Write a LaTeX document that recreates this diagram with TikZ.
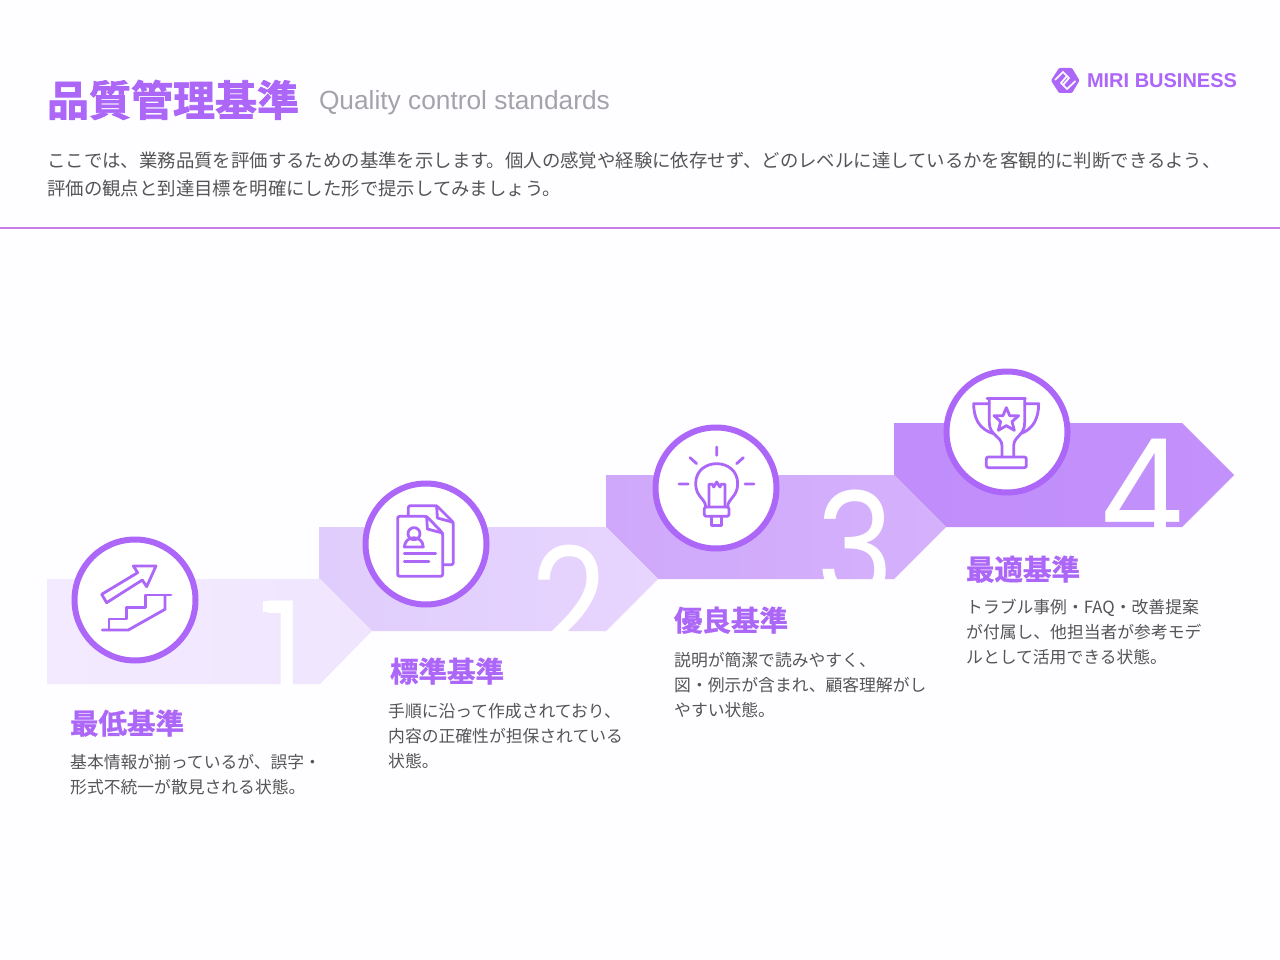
\documentclass[tikz,border=0pt]{standalone}
\usepackage{fontspec}
\setmainfont{Noto Sans CJK JP}
\newfontfamily\bodyf{Noto Sans CJK JP}
\newfontfamily\headf[FakeBold=1.2]{Noto Sans CJK JP Bold}
\newfontfamily\titlef[FakeBold=1.8]{Noto Sans CJK JP Bold}
\newfontfamily\numf[FakeStretch=0.88]{Poppins}
\newfontfamily\subf{Liberation Sans}
\newfontfamily\logof{Liberation Sans}
\usetikzlibrary{shapes.geometric}
\definecolor{pur}{HTML}{AC66F8}
\definecolor{bodygray}{HTML}{555555}
\definecolor{subgray}{HTML}{A3A3AC}
\definecolor{sepline}{RGB}{199,127,230}
\definecolor{pagebg}{HTML}{FEFDFF}
\definecolor{stAl}{HTML}{C08DFA}\definecolor{stAr}{HTML}{C391FB}
\definecolor{stBl}{HTML}{CFA8FB}\definecolor{stBr}{HTML}{D5B1FC}
\definecolor{stCl}{HTML}{E0CDFD}\definecolor{stCr}{HTML}{E7D5FE}
\definecolor{stDl}{HTML}{F4EAFF}\definecolor{stDr}{HTML}{EFE6FE}
\tikzset{
  txt/.style={inner sep=0pt,outer sep=0pt,anchor=base west},
  headtxt/.style={txt,text=pur,font=\headf\fontsize{28.5}{28.5}\selectfont},
  bodytxt/.style={inner sep=0pt,anchor=north west,align=left,text=bodygray,font=\bodyf\fontsize{16.8}{25}\selectfont},
  digit/.style={txt,text=white,font=\numf\fontsize{150}{150}\selectfont},
  ring/.style={circle,draw=pur,fill=white,line width=6pt,minimum size=121pt,inner sep=0pt},
  ico/.style={draw=pur,line width=2.8pt,line join=round,line cap=round},
}
\begin{document}
\begin{tikzpicture}[x=1pt,y=-1pt]
\useasboundingbox (0,0) rectangle (1280,960);
\fill[pagebg] (0,0) rectangle (1280,960);
% header
\node[txt,text=pur,font=\titlef\fontsize{42}{42}\selectfont] (title) at (47,116) {品質管理基準};
\node[txt,text=subgray,font=\subf\fontsize{26.3}{26.3}\selectfont] (sub) at (319,110) {Quality control standards};
\node[txt,text=pur,font=\logof\bfseries\fontsize{20}{20}\selectfont] (brand) at (1087,88) {MIRI BUSINESS};
\node[inner sep=0pt,anchor=north west,align=left,text=bodygray,font=\bodyf\fontsize{18.4}{28}\selectfont] (intro) at (47,152)
 {ここでは、業務品質を評価するための基準を示します。個人の感覚や経験に依存せず、どのレベルに達しているかを客観的に判断できるよう、\\評価の観点と到達目標を明確にした形で提示してみましょう。};
\fill[sepline] (0,227) rectangle (1280,229);
% logo
\fill[pur,rounded corners=1pt] (1051,80.5) -- (1059,68) -- (1072,68) -- (1079.5,80.5) -- (1072,93) -- (1059,93) -- cycle;
\draw[white,line width=1.7pt] (1055,80) -- (1063,72) -- (1069,78) -- (1063,85) (1075.5,81) -- (1067,89) -- (1061,83) -- (1067,76);
% steps
\def\pfour{(894,423) -- (1182,423) -- (1234,475) -- (1182,527) -- (946,527) -- (894,475) -- cycle}
\def\pthree{(606,475) -- (894,475) -- (946,527) -- (894,579) -- (658,579) -- (606,527) -- cycle}
\def\ptwo{(319,527) -- (606,527) -- (658,579) -- (606,631) -- (372,631) -- (319,579) -- cycle}
\def\pone{(47,579) -- (320,579) -- (372,631) -- (320,684) -- (47,684) -- cycle}
\path[left color=stAl,right color=stAr] \pfour;
\begin{scope}\clip \pfour; \node[digit] (d4) at (1100,546) {4}; \end{scope}
\path[left color=stBl,right color=stBr] \pthree;
\begin{scope}\clip \pthree; \node[digit] (d3) at (816,600) {3}; \end{scope}
\path[left color=stCl,right color=stCr] \ptwo;
\begin{scope}\clip \ptwo; \node[digit] (d2) at (531,655) {2}; \end{scope}
\path[left color=stDl,right color=stDr] \pone;
\begin{scope}\clip \pone; \node[digit] (d1) at (263,709) {1}; \fill[white] (263,600.5) rectangle (290,611.5); \end{scope}
% rings
\node[ring] (c1) at (135,600) {};
\node[ring] (c2) at (426,544) {};
\node[ring] (c3) at (716,488) {};
\node[ring] (c4) at (1007,432) {};
% icon 1: stairs
\begin{scope}[shift={(85,550)},x=0.3333pt,y=-0.3333pt]
\draw[ico] (50,133) -- (158,68) -- (145,48) -- (213,48) -- (185,110) -- (172,90) -- (65,158) -- cycle;
\draw[ico] (52,240) -- (130,240) -- (240,178) -- (240,135);
\draw[ico] (258,135) -- (182,135) -- (182,172) -- (125,172) -- (125,207) -- (72,207) -- (72,240);
\end{scope}
% icon 2: documents
\begin{scope}[shift={(375,493)},x=0.3333pt,y=-0.3333pt]
\draw[ico,rounded corners=2pt] (100,68) -- (100,38) -- (185,38) -- (235,88) -- (235,215) -- (204,215);
\draw[ico] (185,38) -- (187,75) -- (235,88);
\draw[ico,rounded corners=2pt] (155,70) -- (68,70) -- (68,250) -- (203,250) -- (203,120) -- cycle;
\draw[ico] (155,70) -- (157,108) -- (203,120);
\draw[ico] (117,122) circle (6pt);
\draw[ico] (88,162) .. controls (90,125) and (143,125) .. (145,162) -- cycle;
\draw[ico] (88,182) -- (182,182);
\draw[ico] (88,205) -- (162,205);
\end{scope}
% icon 3: bulb
\begin{scope}[shift={(665,437)},x=0.3333pt,y=-0.3333pt]
\draw[ico] (155,30) -- (155,55) (75,62) -- (95,80) (235,62) -- (215,80) (42,141) -- (70,141) (240,141) -- (267,141);
\draw[ico] (122,210) .. controls (122,185) and (92,180) .. (92,140) .. controls (92,60) and (218,60) .. (218,140) .. controls (218,180) and (188,185) .. (188,210);
\draw[ico,rounded corners=2pt] (118,210) -- (192,210) -- (192,238) -- (118,238) -- cycle;
\draw[ico] (140,238) -- (140,265) -- (170,265) -- (170,238);
\draw[ico] (132,210) -- (132,142) -- (143,142) -- (146,150) -- (155,135) -- (165,150) -- (168,142) -- (180,142) -- (180,210);
\end{scope}
% icon 4: trophy
\begin{scope}[shift={(957,381)},x=0.3333pt,y=-0.3333pt]
\draw[ico] (90,52) -- (205,52);
\draw[ico] (97,52) -- (97,125) .. controls (97,165) and (135,165) .. (135,195) -- (135,228);
\draw[ico] (203,52) -- (203,125) .. controls (203,165) and (170,165) .. (170,195) -- (170,228);
\draw[ico] (97,68) -- (50,68) .. controls (50,110) and (65,145) .. (110,158);
\draw[ico] (203,68) -- (245,68) .. controls (245,110) and (230,145) .. (190,158);
\draw[ico,rounded corners=2pt] (88,228) -- (208,228) -- (208,260) -- (88,260) -- cycle;
\draw[ico] (148,80) -- (158,104) -- (185,104) -- (165,122) -- (172,148) -- (148,134) -- (124,148) -- (131,122) -- (111,104) -- (138,104) -- cycle;
\end{scope}
% labels
\node[headtxt] (h1) at (70,734) {最低基準};
\node[bodytxt] (b1) at (70,754) {基本情報が揃っているが、誤字・\\形式不統一が散見される状態。};
\node[headtxt] (h2) at (390,682) {標準基準};
\node[bodytxt] (b2) at (388,703) {手順に沿って作成されており、\\内容の正確性が担保されている\\状態。};
\node[headtxt] (h3) at (674,631) {優良基準};
\node[bodytxt] (b3) at (674,652) {説明が簡潔で読みやすく、\\図・例示が含まれ、顧客理解がし\\やすい状態。};
\node[headtxt] (h4) at (966,580) {最適基準};
\node[bodytxt] (b4) at (966,599) {トラブル事例・FAQ・改善提案\\が付属し、他担当者が参考モデ\\ルとして活用できる状態。};
\end{tikzpicture}
\end{document}
